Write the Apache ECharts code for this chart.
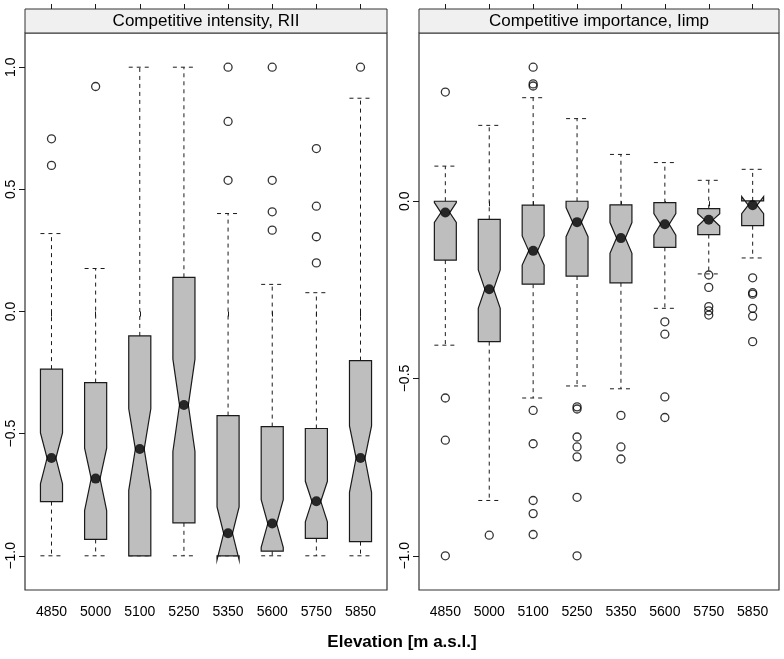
<!DOCTYPE html>
<html>
<head>
<meta charset="utf-8">
<script src="https://cdn.jsdelivr.net/npm/echarts@6/dist/echarts.min.js"></script>
<style>
html,body{margin:0;padding:0;background:#fff;}
#chart{width:784px;height:659px;}
</style>
</head>
<body>
<div id="chart"></div>
<script>
// ---- data ----
const categories = ['4850', '5000', '5100', '5250', '5350', '5600', '5750', '5850'];
const yTicksRII = [-1.0, -0.5, 0.0, 0.5, 1.0];
const yTicksImp = [-1.0, -0.5, 0.0];

// Competitive intensity, RII
const riiWhiskerLow  = [-1, -1, -1, -1, -1, -1, -1, -1];
const riiQ1          = [-0.778, -0.933, -1.0, -0.865, -1.0, -0.981, -0.929, -0.942];
const riiNotchLow    = [-0.705, -0.815, -0.732, -0.573, -1.017, -0.965, -0.861, -0.740];
const riiMedian      = [-0.600, -0.684, -0.563, -0.383, -0.908, -0.868, -0.777, -0.600];
const riiNotchHigh   = [-0.497, -0.559, -0.398, -0.195, -0.800, -0.770, -0.695, -0.468];
const riiQ3          = [-0.236, -0.291, -0.100, 0.140, -0.426, -0.471, -0.479, -0.201];
const riiWhiskerHigh = [0.319, 0.176, 1.0, 1.0, 0.401, 0.111, 0.077, 0.873];
const riiOutliers = [
  [0.707, 0.598], [0.921], [], [], [1.0, 0.778, 0.537],
  [1.0, 0.537, 0.408, 0.333], [0.667, 0.431, 0.306, 0.199], [1.0]
];

// Competitive importance, Iimp
const impWhiskerLow  = [-0.406, -0.844, -0.555, -0.521, -0.529, -0.302, -0.205, -0.160];
const impQ1          = [-0.166, -0.396, -0.234, -0.211, -0.230, -0.130, -0.094, -0.069];
const impNotchLow    = [-0.060, -0.302, -0.180, -0.100, -0.147, -0.096, -0.070, -0.035];
const impMedian      = [-0.032, -0.248, -0.140, -0.059, -0.104, -0.065, -0.052, -0.011];
const impNotchHigh   = [-0.004, -0.194, -0.098, -0.018, -0.060, -0.035, -0.035, 0.013];
const impQ3          = [0.0, -0.051, -0.011, 0.0, -0.010, -0.004, -0.021, 0.001];
const impWhiskerHigh = [0.099, 0.214, 0.292, 0.233, 0.132, 0.109, 0.059, 0.090];
const impOutliers = [
  [0.308, -0.555, -0.674, -1.0],
  [-0.942],
  [0.378, 0.331, 0.325, -0.590, -0.684, -0.844, -0.881, -0.940],
  [-0.580, -0.586, -0.665, -0.693, -0.721, -0.835, -1.0],
  [-0.604, -0.693, -0.727],
  [-0.340, -0.375, -0.552, -0.610],
  [-0.208, -0.243, -0.297, -0.309, -0.321],
  [-0.216, -0.258, -0.262, -0.302, -0.324, -0.396]
];

// ---- build ----
const catPos = categories.map((c, i) => i + 1);
function boxData(wl, q1, nl, med, nh, q3, wh) {
  return categories.map((c, i) => [i + 1, wl[i], q1[i], nl[i], med[i], nh[i], q3[i], wh[i]]);
}
function outlierData(arr) {
  const out = [];
  arr.forEach((list, i) => list.forEach(v => out.push([i + 1, v])));
  return out;
}
function medianData(med) { return med.map((v, i) => [i + 1, v]); }

const LINE = '#1a1a1a';
const FONT = 'Liberation Sans, Arial, Helvetica, sans-serif';

function renderBox(params, api) {
  const x = api.value(0);
  const wl = api.value(1), q1 = api.value(2), nl = api.value(3), med = api.value(4),
        nh = api.value(5), q3 = api.value(6), wh = api.value(7);
  const cx = api.coord([x, med])[0];
  const yy = v => api.coord([x, v])[1];
  const hw = api.size([1, 0])[0] * 0.25;
  const nw = hw * 0.4;
  const dash = { stroke: LINE, lineWidth: 1, lineDash: [4, 4], fill: null };
  const children = [
    { type: 'line', shape: { x1: cx, y1: yy(q3), x2: cx, y2: yy(wh) }, style: dash },
    { type: 'line', shape: { x1: cx, y1: yy(q1), x2: cx, y2: yy(wl) }, style: dash },
    { type: 'line', shape: { x1: cx - hw, y1: yy(wh), x2: cx + hw, y2: yy(wh) }, style: dash },
    { type: 'line', shape: { x1: cx - hw, y1: yy(wl), x2: cx + hw, y2: yy(wl) }, style: dash },
    {
      type: 'polygon',
      shape: {
        points: [
          [cx - hw, yy(q1)], [cx - hw, yy(nl)], [cx - nw, yy(med)], [cx - hw, yy(nh)], [cx - hw, yy(q3)],
          [cx + hw, yy(q3)], [cx + hw, yy(nh)], [cx + nw, yy(med)], [cx + hw, yy(nl)], [cx + hw, yy(q1)]
        ]
      },
      style: { fill: '#bebebe', stroke: LINE, lineWidth: 1.2 }
    }
  ];
  return { type: 'group', children: children };
}

function xAxes(grid) {
  return [
    {
      gridIndex: grid, type: 'value', min: 0.4, max: 8.6, position: 'bottom',
      axisLine: { show: false }, splitLine: { show: false },
      axisTick: { show: true, customValues: catPos, length: 5, lineStyle: { color: LINE } },
      axisLabel: {
        customValues: catPos, margin: 15, color: '#000', fontSize: 14, fontFamily: FONT,
        formatter: v => categories[Math.round(v) - 1]
      }
    },
    {
      gridIndex: grid, type: 'value', min: 0.4, max: 8.6, position: 'top', offset: 24,
      axisLine: { show: false }, splitLine: { show: false },
      axisTick: { show: true, customValues: catPos, length: 5, lineStyle: { color: LINE } },
      axisLabel: { show: false, customValues: catPos }
    }
  ];
}
function yAxis(grid, min, max, ticks) {
  return {
    gridIndex: grid, type: 'value', min: min, max: max, position: 'left',
    axisLine: { show: false }, splitLine: { show: false },
    axisTick: { show: true, customValues: ticks, length: 6, lineStyle: { color: LINE } },
    axisLabel: {
      customValues: ticks, rotate: 90, margin: 7, color: '#000', fontSize: 14, fontFamily: FONT,
      formatter: v => (v < 0 ? '\u2212' : '') + Math.abs(v).toFixed(1)
    }
  };
}

const G0 = { left: 25, top: 33, width: 362, height: 557 };
const G1 = { left: 419, top: 33, width: 360, height: 557 };
const STRIP_H = 24;

function strip(g, text) {
  return [
    {
      type: 'rect', shape: { x: g.left, y: g.top - STRIP_H, width: g.width, height: STRIP_H },
      style: { fill: '#f0f0f0', stroke: '#333', lineWidth: 1 }
    },
    {
      type: 'text', x: g.left + g.width / 2, y: g.top - STRIP_H / 2,
      style: { text: text, fill: '#000', font: '17px ' + FONT, textAlign: 'center', textVerticalAlign: 'middle' }
    }
  ];
}

const option = {
  animation: false,
  backgroundColor: '#fff',
  grid: [
    Object.assign({ show: true, borderColor: '#333', borderWidth: 1.2, backgroundColor: 'transparent' }, G0),
    Object.assign({ show: true, borderColor: '#333', borderWidth: 1.2, backgroundColor: 'transparent' }, G1)
  ],
  xAxis: xAxes(0).concat(xAxes(1)),
  yAxis: [yAxis(0, -1.14, 1.14, yTicksRII), yAxis(1, -1.0965, 0.4745, yTicksImp)],
  graphic: strip(G0, 'Competitive intensity, RII').concat(strip(G1, 'Competitive importance, Iimp')).concat([
    {
      type: 'text', x: 402, y: 642,
      style: { text: 'Elevation [m a.s.l.]', fill: '#000', font: 'bold 17px ' + FONT, textAlign: 'center', textVerticalAlign: 'middle' }
    }
  ]),
  series: [
    {
      type: 'custom', xAxisIndex: 0, yAxisIndex: 0, renderItem: renderBox,
      data: boxData(riiWhiskerLow, riiQ1, riiNotchLow, riiMedian, riiNotchHigh, riiQ3, riiWhiskerHigh),
      encode: { x: 0, y: [1, 2, 3, 4, 5, 6, 7] }, clip: false
    },
    {
      type: 'scatter', xAxisIndex: 0, yAxisIndex: 0, symbol: 'circle', symbolSize: 8,
      itemStyle: { color: 'rgba(0,0,0,0)', borderColor: '#000', borderWidth: 1.3 },
      data: outlierData(riiOutliers)
    },
    {
      type: 'scatter', xAxisIndex: 0, yAxisIndex: 0, symbol: 'circle', symbolSize: 10,
      itemStyle: { color: '#000' }, data: medianData(riiMedian), z: 5
    },
    {
      type: 'custom', xAxisIndex: 2, yAxisIndex: 1, renderItem: renderBox,
      data: boxData(impWhiskerLow, impQ1, impNotchLow, impMedian, impNotchHigh, impQ3, impWhiskerHigh),
      encode: { x: 0, y: [1, 2, 3, 4, 5, 6, 7] }, clip: false
    },
    {
      type: 'scatter', xAxisIndex: 2, yAxisIndex: 1, symbol: 'circle', symbolSize: 8,
      itemStyle: { color: 'rgba(0,0,0,0)', borderColor: '#000', borderWidth: 1.3 },
      data: outlierData(impOutliers)
    },
    {
      type: 'scatter', xAxisIndex: 2, yAxisIndex: 1, symbol: 'circle', symbolSize: 10,
      itemStyle: { color: '#000' }, data: medianData(impMedian), z: 5
    }
  ]
};

const chart = echarts.init(document.getElementById('chart'), null, { renderer: 'canvas' });
chart.setOption(option);
</script>
</body>
</html>
